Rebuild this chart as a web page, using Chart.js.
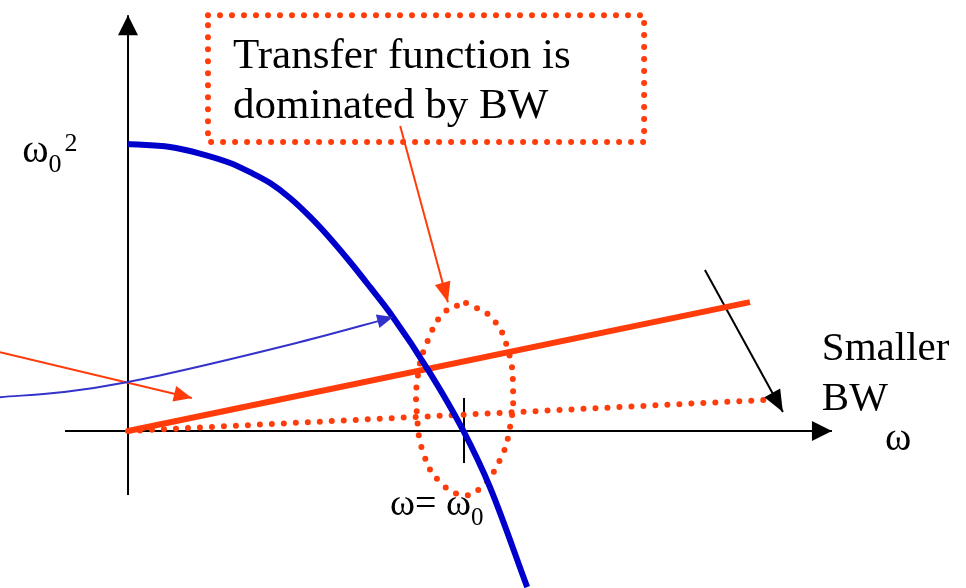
<!DOCTYPE html>
<html>
<head>
<meta charset="utf-8">
<script src="https://cdn.jsdelivr.net/npm/chart.js@4/dist/chart.umd.min.js"></script>
<style>
  body { margin: 0; background: #fff; }
  #wrap { width: 966px; height: 588px; }
</style>
</head>
<body>
<div id="wrap"><canvas id="diagram"></canvas></div>
<script>
// units: omega / omega0 on x, value / omega0^2 on y
const curveX = [0, 0.125, 0.214, 0.304, 0.363, 0.423, 0.482, 0.542, 0.601, 0.661, 0.720, 0.780, 0.899, 0.997, 1.077, 1.188];
const curveY = [1.0, 0.99, 0.967, 0.934, 0.902, 0.864, 0.812, 0.746, 0.672, 0.589, 0.502, 0.411, 0.202, 0.003, -0.195, -0.544];

const bwLineX = [0, 1.851];
const bwLineY = [0, 0.449];
const smallBwX = [0, 1.896];
const smallBwY = [0, 0.108];

const ellipseX = [1.006, 1.083, 1.131, 1.146, 1.137, 1.107, 1.048, 0.997, 0.929, 0.881, 0.860, 0.863, 0.893, 0.943, 1.006];
const ellipseY = [0.446, 0.394, 0.282, 0.143, 0.014, -0.101, -0.199, -0.223, -0.178, -0.084, 0.056, 0.195, 0.317, 0.415, 0.446];

const boxX = [0.238, 1.536, 1.536, 0.238, 0.238];
const boxY = [1.449, 1.449, 1.007, 1.007, 1.449];

const blueArrowX = [-0.381, -0.19, 0, 0.512, 0.789];
const blueArrowY = [0.118, 0.136, 0.171, 0.310, 0.397];
const redArrowX = [-0.381, 0.190];
const redArrowY = [0.275, 0.115];
const boxArrowX = [0.810, 0.952];
const boxArrowY = [1.063, 0.449];
const blackArrowX = [1.717, 1.949];
const blackArrowY = [0.561, 0.066];

const yAxisX = [0, 0];
const yAxisY = [-0.223, 1.449];
const xAxisX = [-0.1875, 2.095];
const xAxisY = [0, 0];
const tickX = [1, 1];
const tickY = [0.115, -0.111];

const RED = '#FF3C0A';
const BLUE = '#0000CC';

function pts(xs, ys) {
    return xs.map((x, i) => ({ x: x, y: ys[i] }));
}

function line(xs, ys, color, width, extra) {
    return Object.assign({
        data: pts(xs, ys),
        showLine: true,
        borderColor: color,
        backgroundColor: color,
        borderWidth: width,
        pointRadius: 0,
        fill: false,
        tension: 0
    }, extra || {});
}

const dotted = { borderDash: [0, 12], borderCapStyle: 'round' };
const smooth = { cubicInterpolationMode: 'monotone' };

const labels = [
    { text: 'Transfer function is', x: 0.3125, y: 1.265, size: 43 },
    { text: 'dominated by BW', x: 0.3125, y: 1.091, size: 43 },
    { text: 'Smaller', x: 2.065, y: 0.247, size: 41 },
    { text: 'BW', x: 2.065, y: 0.073, size: 41 },
    { text: 'ω', x: 2.253, y: -0.066, size: 40 },
    { text: 'ω', x: -0.315, y: 0.937, size: 40, sub: '0', sup: '2' },
    { text: 'ω= ω', x: 0.780, y: -0.293, size: 38, sub: '0' }
];

// arrow heads at the end of a dataset
const arrowHeads = {
    id: 'arrowHeads',
    afterDatasetsDraw(chart) {
        const ctx = chart.ctx;
        chart.data.datasets.forEach((ds, i) => {
            if (!ds.arrow) return;
            const p = chart.getDatasetMeta(i).data;
            const a = p[p.length - 2], b = p[p.length - 1];
            const ang = Math.atan2(b.y - a.y, b.x - a.x);
            const len = ds.arrow[0], half = ds.arrow[1];
            ctx.save();
            ctx.translate(b.x, b.y);
            ctx.rotate(ang);
            ctx.fillStyle = ds.borderColor;
            ctx.beginPath();
            ctx.moveTo(0, 0);
            ctx.lineTo(-len, -half);
            ctx.lineTo(-len, half);
            ctx.closePath();
            ctx.fill();
            ctx.restore();
        });
    }
};

const textLabels = {
    id: 'textLabels',
    afterDraw(chart) {
        const ctx = chart.ctx;
        const xs = chart.scales.x, ys = chart.scales.y;
        ctx.save();
        ctx.fillStyle = '#000';
        ctx.textBaseline = 'alphabetic';
        labels.forEach(l => {
            const px = xs.getPixelForValue(l.x);
            const py = ys.getPixelForValue(l.y);
            ctx.font = l.size + 'px "Liberation Serif", "Times New Roman", serif';
            ctx.fillText(l.text, px, py);
            let w = ctx.measureText(l.text).width;
            const small = Math.round(l.size * 0.66);
            ctx.font = small + 'px "Liberation Serif", "Times New Roman", serif';
            if (l.sub) {
                ctx.fillText(l.sub, px + w, py + l.size * 0.25);
                w += ctx.measureText(l.sub).width;
            }
            if (l.sup) {
                ctx.fillText(l.sup, px + w + 3, py - l.size * 0.28);
            }
        });
        ctx.restore();
    }
};

new Chart(document.getElementById('diagram'), {
    type: 'scatter',
    data: {
        datasets: [
            line(curveX, curveY, BLUE, 6, Object.assign({ order: 1 }, smooth)),
            line(bwLineX, bwLineY, RED, 6, { order: 2 }),
            line(ellipseX, ellipseY, RED, 6, Object.assign({ tension: 0.45, order: 3 }, dotted)),
            line(smallBwX, smallBwY, RED, 6, Object.assign({ order: 4 }, dotted)),
            line(boxX, boxY, RED, 6, Object.assign({ order: 4 }, dotted)),
            line(blueArrowX, blueArrowY, '#3333CC', 2, Object.assign({ order: 5, arrow: [16, 7] }, smooth)),
            line(redArrowX, redArrowY, RED, 2, { order: 5, arrow: [18, 8] }),
            line(boxArrowX, boxArrowY, RED, 2, { order: 5, arrow: [20, 8] }),
            line(blackArrowX, blackArrowY, '#000', 2, { order: 5, arrow: [22, 9] }),
            line(yAxisX, yAxisY, '#000', 2, { order: 6, arrow: [20, 10] }),
            line(xAxisX, xAxisY, '#000', 2, { order: 6, arrow: [20, 10] }),
            line(tickX, tickY, '#000', 2, { order: 6 })
        ]
    },
    options: {
        responsive: true,
        maintainAspectRatio: false,
        animation: false,
        layout: { padding: 0 },
        plugins: {
            legend: { display: false },
            tooltip: { enabled: false }
        },
        scales: {
            x: { type: 'linear', min: -0.381, max: 2.494, display: false },
            y: { type: 'linear', min: -0.547, max: 1.502, display: false }
        }
    },
    plugins: [arrowHeads, textLabels]
});
</script>
</body>
</html>
